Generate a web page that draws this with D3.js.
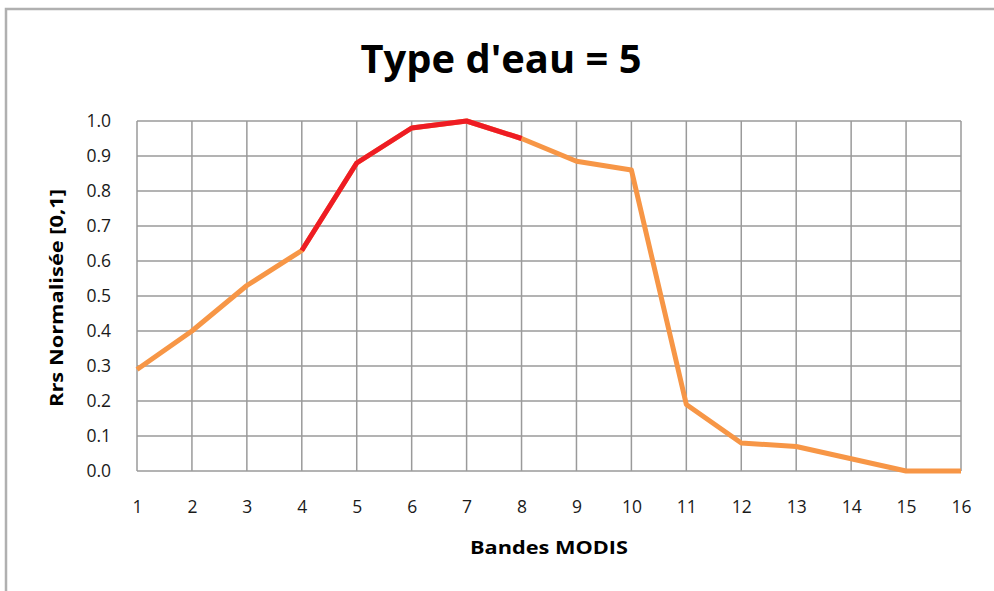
<!DOCTYPE html>
<html>
<head>
<meta charset="utf-8">
<script src="https://cdn.jsdelivr.net/npm/d3@7"></script>
<style>
  body { margin: 0; background: #fff; }
  svg { display: block; }
</style>
</head>
<body>
<svg width="994" height="591"></svg>
<script>
var svg = d3.select('svg');

// data
var bands = [1, 2, 3, 4, 5, 6, 7, 8, 9, 10, 11, 12, 13, 14, 15, 16];
var rrs = [0.29, 0.40, 0.53, 0.63, 0.88, 0.98, 1.0, 0.95, 0.885, 0.86, 0.19, 0.08, 0.07, 0.035, 0.0, 0.0];
var highlight = [4, 5, 6, 7, 8];   // bands drawn in red
var yTicks = [0, 0.1, 0.2, 0.3, 0.4, 0.5, 0.6, 0.7, 0.8, 0.9, 1.0];

var points = bands.map(function (b, i) { return { band: b, v: rrs[i] }; });

var x = d3.scaleLinear().domain([1, 16]).range([137, 961]);
var y = d3.scaleLinear().domain([0, 1]).range([471, 121]);

// outer frame (runs off the right and bottom edges)
svg.append("rect")
    .attr("x", 6).attr("y", 9)
    .attr("width", 1100).attr("height", 700)
    .attr("fill", "white")
    .attr("stroke", "#b0b0b0")
    .attr("stroke-width", 2.5);

// grid
svg.append("g")
    .selectAll("line")
    .data(yTicks)
    .enter()
    .append("line")
    .attr("x1", x(1)).attr("x2", x(16))
    .attr("y1", function (d) { return y(d); })
    .attr("y2", function (d) { return y(d); })
    .attr("stroke", "#9a9a9a")
    .attr("stroke-width", 1.5);

svg.append("g")
    .selectAll("line")
    .data(bands)
    .enter()
    .append("line")
    .attr("x1", function (d) { return x(d); })
    .attr("x2", function (d) { return x(d); })
    .attr("y1", y(0)).attr("y2", y(1))
    .attr("stroke", "#9a9a9a")
    .attr("stroke-width", 1.5);

// tick labels via d3 axes
var xAxis = svg.append("g")
    .attr("transform", "translate(0," + y(0) + ")")
    .call(d3.axisBottom(x).tickValues(bands).tickSize(0).tickPadding(30).tickFormat(d3.format("d")));
var yAxis = svg.append("g")
    .attr("transform", "translate(" + x(1) + ",0)")
    .call(d3.axisLeft(y).tickValues(yTicks).tickSize(0).tickPadding(26).tickFormat(d3.format(".1f")));

[xAxis, yAxis].forEach(function (g) {
    g.select(".domain").remove();
    g.selectAll("text")
        .attr("font-family", "'Open Sans', sans-serif")
        .attr("font-size", 17.5)
        .attr("fill", "#1a1a1a");
});

// line
var line = d3.line()
    .x(function (d) { return x(d.band); })
    .y(function (d) { return y(d.v); });

svg.append("path")
    .datum(points)
    .attr("d", line)
    .attr("fill", "none")
    .attr("stroke", "#f79646")
    .attr("stroke-width", 5)
    .attr("stroke-linejoin", "round");

svg.append("path")
    .datum(points.filter(function (d) { return highlight.indexOf(d.band) >= 0; }))
    .attr("d", line)
    .attr("fill", "none")
    .attr("stroke", "#ee1c24")
    .attr("stroke-width", 5)
    .attr("stroke-linejoin", "round");

// titles
svg.append("text")
    .attr("x", 501).attr("y", 73)
    .attr("text-anchor", "middle")
    .attr("font-family", "'Open Sans', sans-serif")
    .attr("font-weight", "bold")
    .attr("font-size", 39)
    .attr("textLength", 281)
    .attr("lengthAdjust", "spacingAndGlyphs")
    .text("Type d'eau = 5");

svg.append("text")
    .attr("x", 549).attr("y", 554)
    .attr("text-anchor", "middle")
    .attr("font-family", "'Open Sans', sans-serif")
    .attr("font-weight", "bold")
    .attr("font-size", 17)
    .attr("textLength", 158)
    .attr("lengthAdjust", "spacingAndGlyphs")
    .text("Bandes MODIS");

svg.append("text")
    .attr("transform", "translate(63,298) rotate(-90)")
    .attr("text-anchor", "middle")
    .attr("font-family", "'Open Sans', sans-serif")
    .attr("font-weight", "bold")
    .attr("font-size", 17)
    .attr("textLength", 218)
    .attr("lengthAdjust", "spacingAndGlyphs")
    .text("Rrs Normalisée [0,1]");
</script>
</body>
</html>
